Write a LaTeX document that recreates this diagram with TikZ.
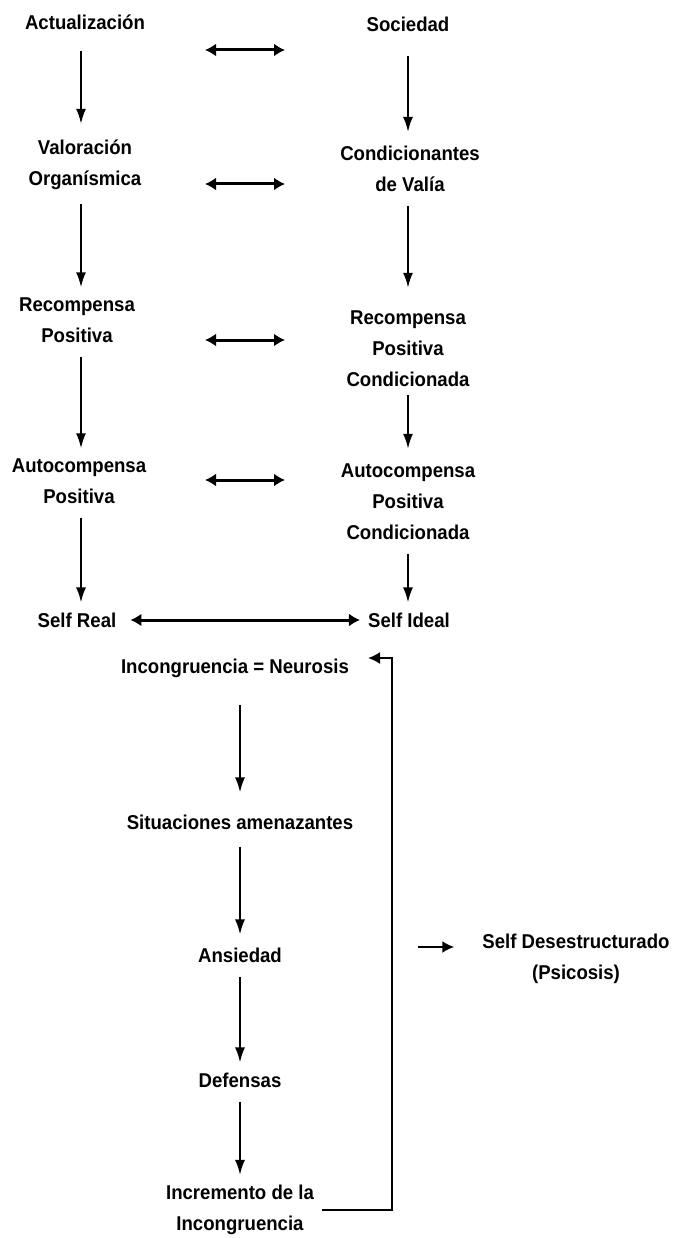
\documentclass[tikz,border=0pt]{standalone}
\usepackage{fontspec}
\setmainfont[FakeStretch=0.93]{Liberation Sans}
\usetikzlibrary{arrows.meta,positioning,calc}

\begin{document}
\begin{tikzpicture}[x=1pt,y=-1pt,
    lbl/.style={align=center, font=\fontsize{20}{31}\selectfont\bfseries, inner sep=0pt},
    down/.style={-{Latex[length=15pt,width=10pt]}, line width=2pt, shorten <=14pt, shorten >=10pt},
    both/.style={{Latex[length=11pt,width=13pt]}-{Latex[length=11pt,width=13pt]}, line width=3pt}]
    \useasboundingbox (0,0) rectangle (682,1238);

    % column lines for the vertical arrows
    \coordinate (colL) at (81,0);
    \coordinate (colR) at (408,0);
    \coordinate (colM) at (240,0);

    % left column
    \node (act) [lbl] at (85,22) {Actualización};
    \node (val) [lbl] at (85,165) {Valoración\\Organísmica};
    \node (rec) [lbl] at (77,320) {Recompensa\\Positiva};
    \node (auto) [lbl] at (79,481) {Autocompensa\\Positiva};
    \node (sreal) [lbl] at (77,620) {Self Real};

    % right column
    \node (soc) [lbl] at (408,24) {Sociedad};
    \node (cond) [lbl] at (410,169) {Condicionantes\\de Valía};
    \node (recc) [lbl] at (408,349) {Recompensa\\Positiva\\Condicionada};
    \node (autoc) [lbl] at (408,502) {Autocompensa\\Positiva\\Condicionada};
    \node (sideal) [lbl] at (409,620) {Self Ideal};

    % lower chain
    \node (inc) [lbl] at (235,668) {Incongruencia = Neurosis};
    \node (sit) [lbl] at (240,822) {Situaciones amenazantes};
    \node (ans) [lbl] at (240,955) {Ansiedad};
    \node (def) [lbl] at (240,1080) {Defensas};
    \node (incr) [lbl] at (240,1210) {Incremento de la\\Incongruencia};
    \node (sdes) [lbl] at (576,959) {Self Desestructurado\\(Psicosis)};

    \draw [down, shorten <=21pt, shorten >=16pt] (act.south -| colL) -- (val.north -| colL);
    \draw [down] (val.south -| colL) -- (rec.north -| colL);
    \draw [down] (rec.south -| colL) -- (auto.north -| colL);
    \draw [down] (auto.south -| colL) -- (sreal.north -| colL);

    \draw [down, shorten <=24pt, shorten >=14pt] (soc.south -| colR) -- (cond.north -| colR);
    \draw [down, shorten >=23pt] (cond.south -| colR) -- (recc.north -| colR);
    \draw [down, shorten <=8pt, shorten >=15pt] (recc.south -| colR) -- (autoc.north -| colR);
    \draw [down] (autoc.south -| colR) -- (sideal.north -| colR);

    \draw [down, shorten <=27pt, shorten >=22pt] (inc.south -| colM) -- (sit.north -| colM);
    \draw [down, shorten <=17pt, shorten >=13pt] (sit.south -| colM) -- (ans.north -| colM);
    \draw [down] (ans.south -| colM) -- (def.north -| colM);
    \draw [down] (def.south -| colM) -- (incr.north -| colM);

    % links between the columns
    \coordinate (h1a) at (205,50);  \coordinate (h1b) at (285,50);
    \coordinate (h2a) at (205,184); \coordinate (h2b) at (285,184);
    \coordinate (h3a) at (205,340); \coordinate (h3b) at (285,340);
    \coordinate (h4a) at (205,480); \coordinate (h4b) at (285,480);
    \draw [both] (h1a) -- (h1b);
    \draw [both] (h2a) -- (h2b);
    \draw [both] (h3a) -- (h3b);
    \draw [both] (h4a) -- (h4b);
    \draw [both, shorten <=14pt, shorten >=8pt] (sreal.east) -- (sideal.west);

    % feedback loop
    \coordinate (fb) at (392,658);
    \coordinate (fbend) at (368,658);
    \draw [line width=2pt, -{Latex[length=12pt,width=12pt]}] ([xshift=8pt]incr.east) -| (fb) -- (fbend);

    % breakdown
    \coordinate (ps) at (418,947);
    \draw [line width=2pt, -{Latex[length=12pt,width=12pt]}, shorten >=28pt] (ps) -- (ps -| sdes.west);
\end{tikzpicture}
\end{document}
